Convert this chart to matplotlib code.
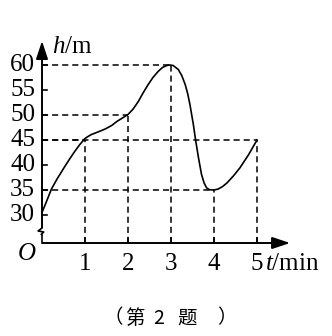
import matplotlib.pyplot as plt

plt.rcParams["mathtext.fontset"] = "custom"
plt.rcParams["mathtext.rm"] = "Liberation Serif"
plt.rcParams["mathtext.it"] = "Liberation Serif:italic"

# =====================================================
# DATA
# =====================================================

t_values = [0, 0.1, 0.22, 0.35, 0.53, 0.65, 0.76, 0.88, 0.95, 1.0, 1.07,
            1.15, 1.3, 1.47, 1.62, 1.74, 1.87, 2.0, 2.12, 2.24, 2.35, 2.47,
            2.58, 2.7, 2.8, 2.9, 2.97, 3.05, 3.17, 3.25, 3.33, 3.39, 3.44,
            3.48, 3.52, 3.57, 3.64, 3.71, 3.77, 3.83, 3.9, 4.0, 4.1, 4.2,
            4.3, 4.45, 4.6, 4.8, 5.0]
h_values = [30.5, 32.6, 35.2, 37.2, 39.7, 41.3, 42.7, 44.1, 44.8, 45.3, 45.7,
            46.1, 46.6, 47.2, 47.9, 48.7, 49.4, 50.1, 51.2, 52.7, 54.4, 56.1,
            57.5, 58.7, 59.5, 59.9, 60, 59.9, 59.1, 57.9, 56.1, 54.2, 52.1,
            50.1, 48.1, 45.1, 41.4, 38.1, 36.4, 35.4, 35.05, 35, 35.2, 35.7,
            36.4, 37.8, 39.4, 42.0, 45]

y_ticks = [30, 35, 40, 45, 50, 55, 60]
x_ticks = [1, 2, 3, 4, 5]

# guide lines: (t, h) of the marked points
guide_t = [1, 2, 3, 4, 5]
guide_h = [45, 50, 60, 35, 45]

caption_parts = ["（", "第", "2", "题", "）"]

axis_h = 24.4
break_top = 27.4
break_bottom = 26.0


def px(x, y):
    # pixel position of the reference -> data coordinates
    return (x - 42) / 43, 60 - (y - 65) / 5


fig = plt.figure(figsize=(3.32, 3.36), dpi=100)
ax = fig.add_axes([0, 0, 1, 1])
ax.set_xlim(-42 / 43, 290 / 43)
ax.set_ylim(60 - 271 / 5, 73)
ax.axis("off")

dash_kw = dict(color="black", linewidth=1.1, dashes=(4.0, 2.6))

# =====================================
# Dashed guides
# =====================================

for t, h in zip(guide_t, guide_h):
    ax.plot([t, t], [axis_h, h], **dash_kw)
    ax.plot([0, t], [h, h], **dash_kw)

# =====================================
# Axes with arrows and break
# =====================================

ax.plot([0, 5.5], [axis_h, axis_h], color="black", linewidth=1.4,
        solid_capstyle="butt")
ax.annotate("", xy=(5.77, axis_h), xytext=(5.3, axis_h),
            arrowprops=dict(arrowstyle="-|>,head_length=0.9,head_width=0.3",
                            color="black", linewidth=1.4, shrinkA=0,
                            shrinkB=0, mutation_scale=12))

ax.plot([0, 0], [break_top, 63], color="black", linewidth=1.4,
        solid_capstyle="butt")
ax.annotate("", xy=(0, 64.8), xytext=(0, 62),
            arrowprops=dict(arrowstyle="-|>,head_length=0.9,head_width=0.3",
                            color="black", linewidth=1.4, shrinkA=0,
                            shrinkB=0, mutation_scale=12))
ax.plot([0, -0.09, 0.04, -0.02, 0, 0],
        [break_top, 26.8, 26.6, 26.1, break_bottom, axis_h],
        color="black", linewidth=1.2)

for h in y_ticks:
    ax.plot([0, 0.12], [h, h], color="black", linewidth=1.2)
    ax.text(-0.16, h, str(h), ha="right", va="center",
            family="Liberation Serif", fontsize=18)

for t in x_ticks:
    ax.plot([t, t], [axis_h, axis_h + 1], color="black", linewidth=1.2)
    ax.text(t, 19, str(t), ha="center", va="baseline",
            family="Liberation Serif", fontsize=18)

# =====================================
# Curve
# =====================================

ax.plot(t_values, h_values, color="black", linewidth=1.2)

# =====================================
# Labels
# =====================================

ax.text(-0.35, 22.2, "$O$", ha="center", va="center",
        family="Liberation Serif", fontsize=18)
ax.text(0.23, 62.4, "$h$/m", ha="left", va="baseline",
        family="Liberation Serif", fontsize=18)
ax.text(5.19, 19, "$t$/min", ha="left", va="baseline",
        family="Liberation Serif", fontsize=18)

cjk = ["Noto Sans CJK SC", "DejaVu Sans"]
ax.text(*px(123, 318), caption_parts[0], ha="right", va="center",
        family=cjk, fontsize=14)
for part, x in zip(caption_parts[1:4], [135, 159, 187]):
    ax.text(*px(x, 318), part, ha="center", va="center",
            family=cjk, fontsize=14)
ax.text(*px(217, 318), caption_parts[4], ha="left", va="center",
        family=cjk, fontsize=14)

fig.savefig("out.png", dpi=100)
